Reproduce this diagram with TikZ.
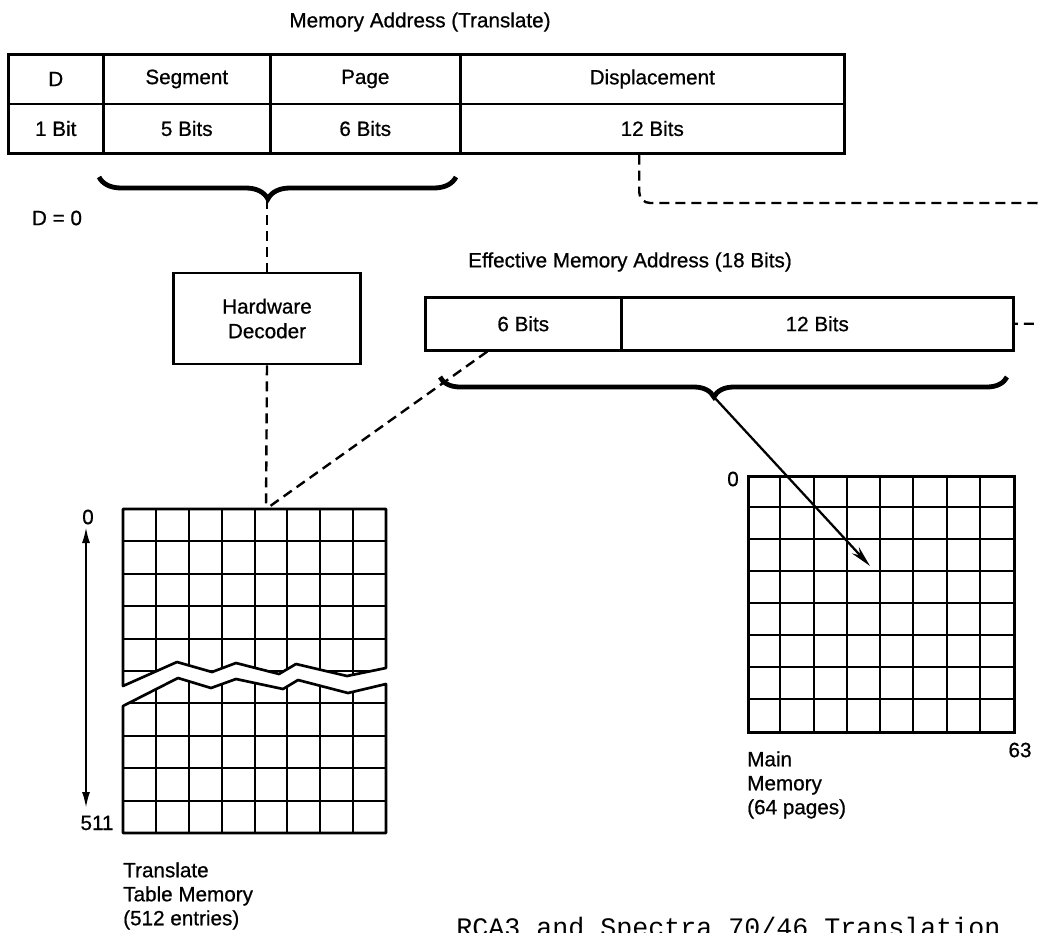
\documentclass[tikz,border=0pt]{standalone}
\usepackage{fontspec}
\setmainfont{Liberation Sans}[BoldFont=Liberation Sans, BoldFeatures={FakeBold=0.7}]
\setmonofont{Liberation Mono}
\usetikzlibrary{arrows.meta,decorations.pathreplacing}
\begin{document}
\begin{tikzpicture}[x=0.75pt,y=-0.75pt,
  lbl/.style={font=\fontsize{15.5}{18.5}\selectfont\bfseries, inner sep=0pt},
  cell/.style={draw, line width=1.9pt, inner sep=0pt, anchor=north west,
    minimum height=37.125pt, font=\fontsize{15.5}{18.5}\selectfont\bfseries},
  ecell/.style={draw, line width=1.9pt, inner sep=0pt, anchor=north west,
    minimum height=39.75pt, font=\fontsize{15.5}{18.5}\selectfont\bfseries},
  gl/.style={line width=1.5pt},
  border/.style={line width=2pt, line join=round},
  dsh/.style={line width=1.8pt, dash pattern=on 7.5pt off 4.5pt},
  brc/.style={line width=3.6pt, decorate},
]
\useasboundingbox (0,0) rectangle (1039,932);
\fill[white] (0,0) rectangle (1039,932);
\clip (0,0) rectangle (1039,932);

% ---- title and top table
\node[lbl] (title) at (420,22) {Memory Address (Translate)};
\node[cell, minimum width=71.25pt]  (cD)   at (7,53)   {D};
\node[cell, minimum width=125.25pt] (cSeg) at (102,53) {Segment};
\node[cell, minimum width=142.5pt]  (cPg)  at (269,53) {Page};
\node[cell, minimum width=288pt]    (cDis) at (459,53) {Displacement};
\node[cell, minimum width=71.25pt]  (c1)   at (7,102.5)   {1 Bit};
\node[cell, minimum width=125.25pt] (c5)   at (102,102.5) {5 Bits};
\node[cell, minimum width=142.5pt]  (c6)   at (269,102.5) {6 Bits};
\node[cell, minimum width=288pt]    (c12)  at (459,102.5) {12 Bits};

% ---- brace under Segment + Page
\draw[brc, decoration={brace, amplitude=16.5pt, aspect=0.527}] (456,177) -- (99,177);
\coordinate (tb) at (267,199);
\node[lbl] (d0) at (57,218) {D = 0};

% ---- hardware decoder
\node[draw, line width=1.9pt, minimum width=140.25pt, minimum height=68.25pt,
      align=center, font=\fontsize{15.5}{18.5}\selectfont\bfseries, inner sep=0pt]
      (hd) at (267,318.5) {Hardware\\Decoder};
\draw[dsh] (tb) -- (hd.north);

% ---- effective memory address
\node[lbl] (eff) at (630,262) {Effective Memory Address (18 Bits)};
\node[ecell, minimum width=147pt] (e6)  at (424,296) {6 Bits};
\node[ecell, minimum width=294pt] (e12) at (620,296) {12 Bits};

% dashed displacement link
\draw[dsh, rounded corners=8pt] ([xshift=-9.75pt]c12.south) |- (1047,203) |- (e12.east);

% brace under effective address
\draw[brc, decoration={brace, amplitude=15pt, aspect=0.517}] (1007,377) -- (440,377);
\coordinate (eb) at (714,397);

% ---- translate table memory
\coordinate (tt) at (266,509);
\draw[dsh] (hd.south) -- (tt);
\draw[dsh] ([xshift=-27pt]e6.south) -- (tt);

\begin{scope}
  \clip (123,509) -- (386,509) -- (386,668) -- (347,676) -- (296,664) -- (279,674)
        -- (236,663) -- (212,672) -- (177,662) -- (123,686) -- cycle;
  \foreach \i in {1,...,7} \draw[gl] ({123+\i*32.875},500) -- ({123+\i*32.875},700);
  \foreach \j in {1,...,6} \draw[gl] (110,{509+\j*32.4}) -- (400,{509+\j*32.4});
\end{scope}
\draw[border] (123,686) -- (123,509) -- (386,509) -- (386,668) -- (347,676) -- (296,664)
      -- (279,674) -- (236,663) -- (212,672) -- (177,662) -- cycle;

\begin{scope}
  \clip (123,706) -- (178,678) -- (211,688) -- (236,679) -- (283,689) -- (298,680)
        -- (348,693) -- (386,684) -- (386,833) -- (123,833) -- cycle;
  \foreach \i in {1,...,7} \draw[gl] ({123+\i*32.875},670) -- ({123+\i*32.875},840);
  \foreach \j in {6,...,9} \draw[gl] (110,{509+\j*32.4}) -- (400,{509+\j*32.4});
\end{scope}
\draw[border] (123,706) -- (178,678) -- (211,688) -- (236,679) -- (283,689) -- (298,680)
      -- (348,693) -- (386,684) -- (386,833) -- (123,833) -- cycle;

\node[lbl] (t0)   at (88,517) {0};
\node[lbl] (t511) at (97,823) {511};
\coordinate (ta) at (86,527);
\coordinate (tz) at (86,808);
\draw[line width=1.6pt, {Latex[length=12pt,width=6pt]}-{Latex[length=12pt,width=6pt]}] (ta) -- (tz);

\node[lbl, anchor=north west, align=left, font=\fontsize{15.5}{18}\selectfont\bfseries] (ttl) at (123,862)
  {Translate\\Table Memory\\(512 entries)};

% ---- main memory
\node[draw, line width=2pt, minimum width=199.5pt, minimum height=192pt,
      anchor=north west, inner sep=0pt] (mm) at (747,475) {};
\foreach \i in {1,...,7} \draw[gl] ({747+\i*33.25},475) -- ({747+\i*33.25},731);
\foreach \j in {1,...,7} \draw[gl] (747,{475+\j*32}) -- (1013,{475+\j*32});
\node[lbl] (m0)  at (733,479) {0};
\node[lbl] (m63) at (1020,750) {63};
\node[lbl, anchor=north west, align=left, font=\fontsize{15.5}{18}\selectfont\bfseries] (mml) at (747,751)
  {Main\\Memory\\(64 pages)};
\coordinate (mmc) at (870,566);
\draw[line width=1.7pt, -{Stealth[length=16pt,width=7pt]}] (eb) -- (mmc);

% ---- caption (cut at the bottom edge, as in the source)
\node[anchor=base west, inner sep=0pt, font=\ttfamily\fontsize{20}{24}\selectfont]
  (cap) at (456,936) {RCA3 and Spectra 70/46 Translation};
\end{tikzpicture}
\end{document}
